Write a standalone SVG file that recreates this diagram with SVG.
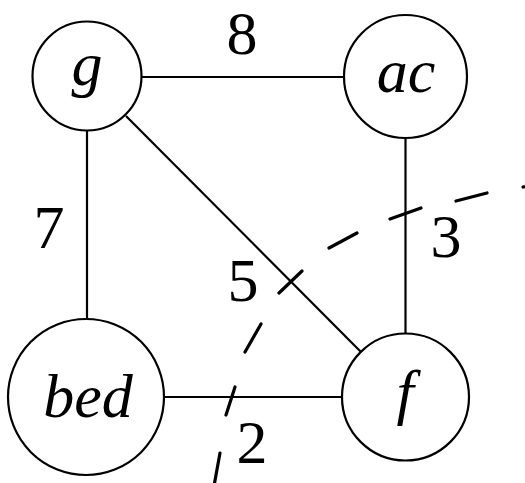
<svg xmlns="http://www.w3.org/2000/svg" width="525" height="483" viewBox="0 0 525 483">
<style>
.node{fill:#fff;stroke:#000;stroke-width:2.2}
.edge{stroke:#000;stroke-width:2.2;fill:none}
.cut{stroke:#000;stroke-width:3.2;fill:none;stroke-linecap:round}
.nl{font-family:"Liberation Serif","DejaVu Serif",serif;font-style:italic;font-size:62px;text-anchor:middle;fill:#000}
.wl{font-family:"Liberation Serif","DejaVu Serif",serif;font-size:62px;text-anchor:middle;fill:#000}
</style>
<rect width="525" height="483" fill="#fff"/>
<g id="edges">
<line class="edge" x1="141" y1="77" x2="343" y2="77"/>
<line class="edge" x1="87" y1="131" x2="87" y2="319"/>
<line class="edge" x1="405.5" y1="137" x2="405.5" y2="333"/>
<line class="edge" x1="126" y1="116" x2="361" y2="352"/>
<line class="edge" x1="164" y1="397" x2="342" y2="397"/>
<text class="wl" x="242" y="54">8</text>
<text class="wl" x="49" y="248">7</text>
<text class="wl" x="243" y="301">5</text>
<text class="wl" x="446" y="257">3</text>
<text class="wl" x="252" y="463">2</text>
</g>
<g id="cut">
<path class="cut" d="M214,486 L220,453 M226,415 L235,387 M245,352 L261,324 M279,293 L302,271 M329,248 L357,233 M390,219 L421,208 M456,201 L487,193 M523,187 L540,183"/>
</g>
<g id="node-g">
<circle class="node" cx="87" cy="76" r="54.5"/>
<text class="nl" x="87" y="85">g</text>
</g>
<g id="node-ac">
<circle class="node" cx="405.5" cy="76.5" r="61.5"/>
<text class="nl" x="406" y="92">ac</text>
</g>
<g id="node-bed">
<circle class="node" cx="86" cy="397" r="78"/>
<text class="nl" x="88" y="417">bed</text>
</g>
<g id="node-f">
<circle class="node" cx="405.5" cy="397" r="63.5"/>
<text class="nl" x="405" y="413">f</text>
</g>
</svg>
